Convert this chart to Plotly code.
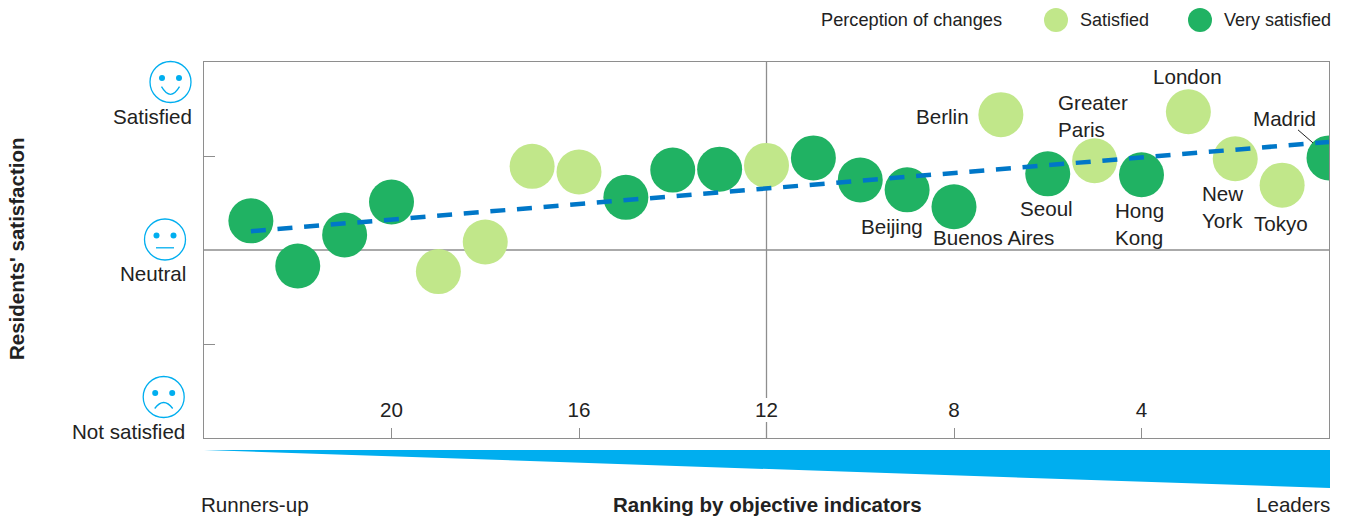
import plotly.graph_objects as go

# Survey results: rank by objective indicators against residents' satisfaction
satisfied_ranks = [19, 18, 17, 16, 12, 7, 5, 3, 2, 1]
satisfied_scores = [-0.23, 0.085, 0.89, 0.83, 0.90, 1.44, 0.95, 1.47, 0.97, 0.69]
very_satisfied_ranks = [23, 22, 21, 20, 15, 14, 13, 11, 10, 9, 8, 6, 4, 0]
very_satisfied_scores = [0.31, -0.17, 0.16, 0.51, 0.56, 0.85, 0.86, 0.98, 0.745, 0.64, 0.46, 0.81, 0.80, 0.98]
trend_ranks = [23, 0]
trend_scores = [0.20, 1.15]
tick_ranks = [20, 16, 12, 8, 4]

# City name, rank, score, pixel offset from the bubble, text anchor
city_labels = [
    ("Berlin", 7, 1.44, -58, -2, "center"),
    ("Greater<br>Paris", 5, 0.95, -38, 45, "left"),
    ("London", 3, 1.47, -1, 35, "center"),
    ("Madrid", 0, 0.98, -45, 39, "center"),
    ("New<br>York", 2, 0.97, -34, -48, "left"),
    ("Tokyo", 1, 0.69, -1, -38, "center"),
    ("Hong<br>Kong", 4, 0.80, -28, -49, "left"),
    ("Seoul", 6, 0.81, -1, -35, "center"),
    ("Buenos Aires", 8, 0.46, 39, -31, "center"),
    ("Beijing", 9, 0.64, -15, -37, "center"),
]

LIGHT_GREEN = "#c1e78a"
DARK_GREEN = "#20b263"
TREND_BLUE = "#0077c8"
SKY_BLUE = "#00aeef"
FRAME_GREY = "#8e8e8e"
TEXT = "#222222"
FONT = "Liberation Sans"
LABEL_SIZE = 20.6
LEGEND_SIZE = 18
TITLE_SIZE = 20.5

LEFT, RIGHT, TOP, BOTTOM = 204, 1329, 62, 438


def paper_x(px):
    return (px - LEFT) / (RIGHT - LEFT)


def paper_y(py):
    return (BOTTOM - py) / (BOTTOM - TOP)


def page_text(text, px, py, anchor="center", size=LABEL_SIZE, angle=0):
    return dict(
        text=text, xref="paper", yref="paper", x=paper_x(px), y=paper_y(py),
        xanchor=anchor, yanchor="middle", showarrow=False, borderpad=0, textangle=angle,
        font=dict(family=FONT, size=size, color=TEXT),
    )


def face(cx, cy, mouth):
    """Outline circle, two eyes and a mouth, centred on a page position."""
    common = dict(
        xref="paper", yref="paper", xsizemode="pixel", ysizemode="pixel",
        xanchor=paper_x(cx), yanchor=paper_y(cy),
    )
    parts = [
        dict(type="circle", x0=-20.5, x1=20.5, y0=-20.5, y1=20.5,
             line=dict(color=SKY_BLUE, width=1.3), **common),
        dict(type="path", path=mouth, line=dict(color=SKY_BLUE, width=1.3), **common),
    ]
    for ex in (-8.5, 8.5):
        parts.append(dict(type="circle", x0=ex - 3, x1=ex + 3, y0=1, y1=7,
                          fillcolor=SKY_BLUE, line=dict(width=0), **common))
    return parts


fig = go.Figure()
fig.add_trace(go.Scatter(
    x=satisfied_ranks, y=satisfied_scores, mode="markers", name="Satisfied",
    marker=dict(size=45, color=LIGHT_GREEN, line=dict(width=0)),
))
fig.add_trace(go.Scatter(
    x=very_satisfied_ranks, y=very_satisfied_scores, mode="markers", name="Very satisfied",
    marker=dict(size=45, color=DARK_GREEN, line=dict(width=0)),
))
fig.add_trace(go.Scatter(
    x=trend_ranks, y=trend_scores, mode="lines", name="Trend",
    line=dict(color=TREND_BLUE, width=4.5, dash="15px,11.7px"),
))

shapes = [
    # Quadrant dividers; the vertical one breaks around its "12" tick label
    dict(type="line", xref="x", yref="y", x0=12, x1=12, y0=-1.574, y1=2,
         line=dict(color=FRAME_GREY, width=1.3), layer="below"),
    dict(type="line", xref="x", yref="y", x0=12, x1=12, y0=-2, y1=-1.83,
         line=dict(color=FRAME_GREY, width=1.3), layer="below"),
    dict(type="line", xref="x", yref="y", x0=24, x1=0, y0=0, y1=0,
         line=dict(color=FRAME_GREY, width=1.3), layer="below"),
    # Ranking wedge under the plot
    dict(type="path", xref="paper", yref="paper",
         path=f"M {paper_x(204)} {paper_y(450)} L {paper_x(1330)} {paper_y(450)} "
              f"L {paper_x(1330)} {paper_y(488)} Z",
         fillcolor=SKY_BLUE, line=dict(width=0)),
    # Leader line from the Madrid label to its bubble
    dict(type="line", xref="x", yref="y", xsizemode="pixel", ysizemode="pixel",
         xanchor=0, yanchor=0.98, x0=-31, x1=-16, y0=28, y1=15,
         line=dict(color="#222222", width=1)),
]
for cx, color in ((1056, LIGHT_GREEN), (1200, DARK_GREEN)):
    shapes.append(dict(
        type="circle", xref="paper", yref="paper", xsizemode="pixel", ysizemode="pixel",
        xanchor=paper_x(cx), yanchor=paper_y(20), x0=-12, x1=12, y0=-12, y1=12,
        fillcolor=color, line=dict(width=0),
    ))
shapes += face(170.5, 82, "M -9 -4.7 Q 0 -20 9 -4.7")
shapes += face(165, 239.5, "M -9 -8.3 L 9 -8.3")
shapes += face(163.7, 397, "M -9 -11.5 Q 0 0.5 9 -11.5")

annotations = [
    page_text("Satisfied", 192.5, 116.5, "right"),
    page_text("Neutral", 187, 273.5, "right"),
    page_text("Not satisfied", 186, 431.5, "right"),
    page_text("Runners-up", 199.5, 505, "left"),
    page_text("Leaders", 1330.5, 505, "right"),
    page_text("<b>Ranking by objective indicators</b>", 767, 505, "center", TITLE_SIZE),
    page_text("<b>Residents' satisfaction</b>", 16.5, 249.5, "center", TITLE_SIZE, -90),
    page_text("Perception of changes", 819.5, 20, "left", 18.2),
    page_text("Satisfied", 1079, 20, "left", LEGEND_SIZE),
    page_text("Very satisfied", 1223, 20, "left", LEGEND_SIZE),
]
for name, rank, score, dx, dy, anchor in city_labels:
    annotations.append(dict(
        text=name, x=rank, y=score, xref="x", yref="y", xshift=dx, yshift=dy,
        xanchor=anchor, yanchor="middle", align=anchor, showarrow=False, borderpad=0,
        font=dict(family=FONT, size=LABEL_SIZE, color=TEXT),
    ))

axis_line = dict(showline=True, linecolor=FRAME_GREY, linewidth=1, mirror=True,
                 showgrid=False, zeroline=False, ticks="inside", tickcolor=FRAME_GREY, tickwidth=1,
                 automargin=False)

fig.update_layout(
    width=1346, height=518, autosize=False,
    margin=dict(l=LEFT, r=1346 - RIGHT, t=TOP, b=518 - BOTTOM, pad=0),
    paper_bgcolor="white", plot_bgcolor="white",
    showlegend=False, hovermode=False,
    font=dict(family=FONT, size=LABEL_SIZE, color=TEXT),
    xaxis=dict(
        range=[24, 0], tickmode="array", tickvals=tick_ranks, ticklen=10,
        ticklabelposition="inside", ticklabelstandoff=8,
        tickfont=dict(family=FONT, size=LABEL_SIZE, color=TEXT),
        **axis_line,
    ),
    yaxis=dict(
        range=[-2, 2], tickmode="array", tickvals=[-1, 1], ticktext=["", ""], ticklen=11,
        **axis_line,
    ),
    shapes=shapes,
    annotations=annotations,
)

fig.write_html("out.html")
